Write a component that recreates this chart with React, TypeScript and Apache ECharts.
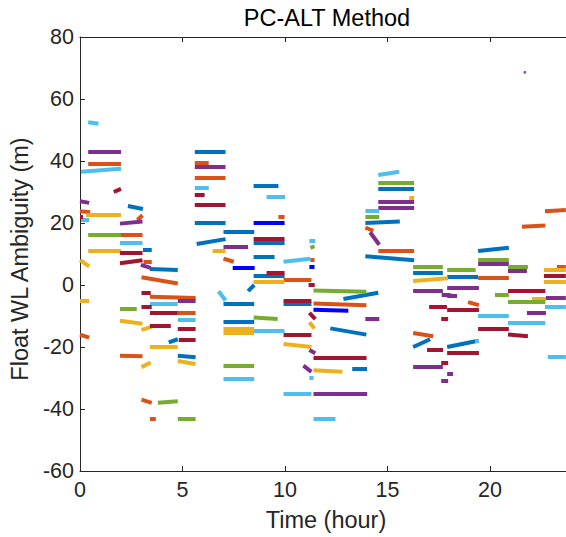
import React, { useEffect, useRef } from "react";
import * as echarts from "echarts";

// Each segment: [tStart (h), tEnd (h), valueStart (m), valueEnd (m)]
const blueSegs = [
  [2.34, 3.07, 25.5, 24.5], [3.07, 3.5, 11.3, 11.3], [3.41, 4.77, 5.2, 4.8], [4.33, 4.77, -18.5, -17.5],
  [4.77, 5.64, -22.8, -23.3], [5.6, 7.1, 43, 43], [5.6, 7.1, 20, 20], [5.69, 7.1, 13.2, 14.8],
  [7.0, 8.5, 17.3, 17.3], [7.0, 8.5, -6, -6], [7.0, 8.5, -12, -12], [8.2, 8.5, -2, 0],
  [8.47, 9.68, 32, 32], [8.47, 9.98, 13.5, 13.5], [8.47, 9.49, 9, 9], [8.47, 9.98, 3, 3],
  [9.93, 11.29, -6, -6], [12.85, 14.55, -4.5, -2.5], [12.21, 13.97, -14, -16], [13.28, 14.0, -27, -27],
  [13.92, 15.6, 20, 20.5], [13.92, 16.3, 9.3, 8], [14.55, 16.3, 31, 31], [16.25, 17.7, 4, 4],
  [16.25, 17.08, -20, -17.5], [17.91, 19.42, 2.8, 2.8], [17.91, 19.42, -20, -18], [19.42, 20.92, 11, 12],
];
const pureBlueSegs = [
  [7.45, 8.52, 5.5, 5.5], [8.47, 9.98, 20, 20], [11.19, 11.44, 6, 6], [11.39, 13.09, -8, -8.3],
];
const orangeSegs = [
  [0.4, 2.0, 39.2, 39.2], [0, 0.5, 23.8, 23.5], [2.8, 3.05, 21, 22.5], [1.95, 3.05, 16.3, 16.3],
  [3.1, 3.5, 7.5, 7.5], [3.0, 4.77, 2.5, 0.5], [3.41, 5.64, -3.8, -4.2], [4.77, 5.64, -9, -9],
  [0, 0.45, -16, -17], [1.95, 3.05, -22.8, -23], [3.0, 3.5, -37, -38], [3.41, 3.7, -43, -43],
  [5.6, 6.28, 39.5, 39.5], [5.6, 7.1, 34.5, 34.5], [7.0, 7.5, 8.5, 7.5], [9.68, 9.98, 22, 22],
  [9.93, 11.29, 1.8, 1.8], [11.24, 11.44, 8.3, 8.3], [11.39, 13.97, -6, -6.5], [13.92, 14.31, 18.5, 17.5],
  [14.55, 16.3, 11, 11], [16.25, 17.23, -15.5, -16.5], [18.93, 19.46, -5.5, -6.5], [19.42, 20.92, 2.2, 2.2],
  [21.56, 22.7, 18.8, 19.2], [22.68, 23.7, 23.8, 24.2], [23.26, 23.7, 6, 6], [13.2, 13.97, -23.5, -23.5],
];
const yellowSegs = [
  [0.3, 2.0, 22.8, 22.8], [0.4, 2.0, 11.1, 11.1], [0, 0.45, 8, 6], [0, 0.45, -5, -5],
  [1.95, 3.05, -11.5, -12.5], [3.0, 3.5, -14.5, -13.5], [3.41, 4.77, -20, -20], [3.0, 3.45, -26.5, -25],
  [4.77, 5.64, -24.5, -25.5], [6.47, 7.1, 11, 11], [7.0, 8.5, -14, -14], [7.0, 8.5, -15.3, -15.3],
  [8.47, 9.98, 1, 1], [9.93, 11.29, -19, -20], [11.19, 11.44, -12, -14], [11.39, 12.8, -27.5, -28],
  [16.06, 16.3, 28, 28], [16.25, 17.95, 1.3, 2.2], [17.62, 18.15, -3, -3], [22.04, 22.73, -4.5, -4.5],
  [22.63, 23.7, 5, 5], [22.63, 23.7, 1.2, 1.2],
];
const purpleSegs = [
  [0.4, 2.0, 43, 43], [0, 0.45, 27, 26.5], [1.95, 3.05, 19.8, 20.5], [2.97, 3.45, 6.5, 5.5],
  [4.77, 5.64, -5, -5], [5.6, 7.1, 38, 38], [7.0, 8.2, 12.2, 12.2], [10.9, 11.29, -26, -28],
  [11.19, 11.48, -21, -22], [11.39, 14.01, -35, -35], [13.92, 14.6, -11, -11], [14.15, 14.6, 17, 13],
  [14.55, 16.3, 27, 27], [14.55, 16.3, 25, 25], [16.25, 17.7, -2, -2], [16.25, 17.7, -26.5, -26.5],
  [17.66, 18.05, -3, -3], [17.91, 18.39, -3.5, -3.5], [17.91, 19.46, -1, -1], [17.91, 18.2, -28.5, -28.5],
  [17.62, 17.96, -31, -31], [19.42, 20.92, 6.8, 6.8], [20.88, 21.8, 4.5, 4.5], [21.8, 22.73, -9, -9],
  [22.73, 23.7, -4, -4],
];
const purpleDots = [[21.7, 68.6]];
const greenSegs = [
  [0.4, 2.0, 16.3, 16.3], [1.95, 2.77, -7.5, -7.5], [3.8, 4.77, -38, -37.5], [4.77, 5.64, -43, -43],
  [7.0, 8.5, -26, -26], [8.47, 9.64, -10.5, -11], [11.24, 11.44, 12, 12.5], [11.39, 13.97, -1.8, -2.2],
  [13.92, 14.6, 22, 22], [14.55, 16.3, 33, 33], [16.25, 17.7, 6, 6], [17.91, 19.3, 5, 5],
  [19.42, 20.92, 8, 8], [20.24, 20.92, -3, -3], [20.88, 21.85, 5.8, 5.8], [20.88, 22.7, -5.5, -5.5],
];
const lightBlueSegs = [
  [0.4, 0.9, 52.5, 52], [0.05, 2.0, 36.5, 37.5], [0.05, 0.45, 21, 21], [1.95, 3.05, 13.7, 13.7],
  [3.41, 4.77, -6, -6], [4.77, 5.64, -11.3, -11.3], [5.6, 6.28, 31.5, 31.5], [6.76, 7.1, -2, -5],
  [7.0, 8.5, -30.3, -30.3], [8.47, 9.98, -14.8, -14.8], [9.1, 10.0, 28.5, 28.5], [9.93, 11.24, 7.5, 8.5],
  [11.19, 11.48, 14.2, 14.2], [9.93, 11.29, -35, -35], [11.39, 12.46, -43, -43], [11.19, 11.39, -30, -30],
  [13.92, 14.6, 24, 24], [14.55, 15.57, 35.5, 36.5], [19.42, 20.92, -10, -10], [19.27, 19.46, -18, -18],
  [20.88, 22.7, -12.3, -12.3], [22.68, 23.7, -7, -7], [22.82, 23.7, -23, -23],
];
const darkRedSegs = [
  [1.65, 2.0, 30, 31], [0, 0.15, 22, 22], [1.95, 3.05, 10.5, 10.5], [1.95, 3.05, 7, 8],
  [3.0, 3.45, -2.5, -2.5], [3.0, 3.5, -7, -7], [3.41, 4.77, -9, -9], [3.41, 4.43, -13, -13],
  [4.77, 5.64, -14, -14], [4.82, 5.64, -17.5, -17.5], [5.6, 6.08, 29, 29], [5.6, 7.1, 26, 26],
  [8.47, 9.98, 15, 15], [9.1, 9.98, 4, 4], [9.93, 11.29, -5, -5], [9.93, 11.29, -16, -16],
  [11.15, 11.45, 0, 0], [11.19, 11.48, -9, -11], [11.39, 13.97, -23.5, -23.5], [17.03, 17.9, -7, -7],
  [17.62, 17.96, -11, -11], [16.93, 17.71, -21, -21], [17.62, 17.96, -25, -25], [17.91, 19.46, -8, -8],
  [17.91, 19.46, -21.7, -21.7], [19.42, 20.92, -14, -14], [20.88, 21.85, -16, -16.5], [20.88, 22.7, -2, -2],
  [22.63, 23.7, 3, 3],
];

const xTicks = { min: 0, max: 24, interval: 5 };
const yTicks = { min: -60, max: 80, interval: 20 };

const FONT = "'Liberation Sans', Arial, Helvetica, sans-serif";
const AX = "#262626";

const groups: [number[][], string][] = [
  [blueSegs, "#0072BD"],
  [orangeSegs, "#D95319"],
  [yellowSegs, "#EDB120"],
  [purpleSegs, "#7E2F8E"],
  [greenSegs, "#77AC30"],
  [lightBlueSegs, "#4DBEEE"],
  [darkRedSegs, "#A2142F"],
  [pureBlueSegs, "#0000FF"],
];

export default function App() {
  const ref = useRef<HTMLDivElement>(null);
  useEffect(() => {
    if (!ref.current) return;
    const chart = echarts.init(ref.current, undefined, { renderer: "svg" });
    const series: any[] = groups.map(([segs, color]) => ({
      type: "lines",
      coordinateSystem: "cartesian2d",
      xAxisIndex: 0,
      yAxisIndex: 0,
      silent: true,
      lineStyle: { color, width: 4, opacity: 1, curveness: 0 },
      data: segs.map((s) => ({ coords: [[s[0], s[2]], [s[1], s[3]]] })),
    }));
    series.push({
      type: "scatter",
      xAxisIndex: 0,
      yAxisIndex: 0,
      symbolSize: 3,
      itemStyle: { color: "#7E2F8E" },
      data: purpleDots,
    });
    chart.setOption({
      animation: false,
      backgroundColor: "#ffffff",
      grid: { left: 79, right: 0, top: 37, bottom: 61, containLabel: false },
      graphic: [
        {
          type: "text",
          x: 327,
          y: 6,
          style: {
            text: "PC-ALT Method",
            fontSize: 23.5,
            fontFamily: FONT,
            fill: "#000000",
            textAlign: "center",
            textVerticalAlign: "top",
          },
        },
      ],
      xAxis: [
        {
          type: "value",
          position: "bottom",
          ...xTicks,
          splitLine: { show: false },
          axisLine: { show: true, onZero: false, lineStyle: { color: AX, width: 1 } },
          axisTick: { show: true, inside: true, length: 5, lineStyle: { color: AX } },
          axisLabel: { color: AX, fontSize: 21.5, fontFamily: FONT, margin: 8, showMaxLabel: false },
          name: "Time (hour)",
          nameLocation: "middle",
          nameGap: 37,
          nameTextStyle: { color: AX, fontSize: 23.5, fontFamily: FONT },
        },
        {
          type: "value",
          position: "top",
          ...xTicks,
          splitLine: { show: false },
          axisLine: { show: true, onZero: false, lineStyle: { color: AX, width: 1 } },
          axisTick: { show: true, inside: true, length: 5, lineStyle: { color: AX } },
          axisLabel: { show: false },
        },
      ],
      yAxis: [
        {
          type: "value",
          position: "left",
          ...yTicks,
          splitLine: { show: false },
          axisLine: { show: true, onZero: false, lineStyle: { color: AX, width: 1 } },
          axisTick: { show: true, inside: true, length: 5, lineStyle: { color: AX } },
          axisLabel: { color: AX, fontSize: 21.5, fontFamily: FONT, margin: 6 },
          name: "Float WL Ambiguity (m)",
          nameLocation: "middle",
          nameGap: 44,
          nameTextStyle: { color: AX, fontSize: 23.5, fontFamily: FONT, padding: [0, 10, 0, 0] },
        },
      ],
      series,
    });
    return () => chart.dispose();
  }, []);
  return (
    <div
      style={{
        position: "fixed",
        left: 0,
        top: 0,
        width: 566,
        height: 537,
        overflow: "hidden",
        background: "#fff",
      }}
    >
      <div ref={ref} style={{ width: 572, height: 537 }} />
    </div>
  );
}
